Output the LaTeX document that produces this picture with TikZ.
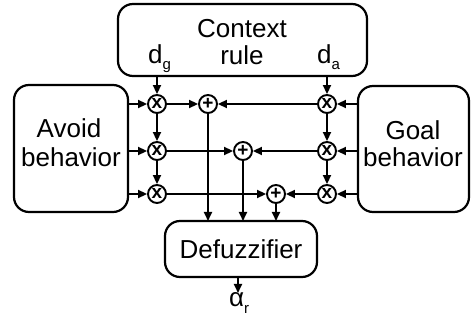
\documentclass[tikz,border=0pt]{standalone}
\usepackage{fontspec}
\setmainfont{Liberation Sans}
\usetikzlibrary{arrows.meta}
\newcommand{\lowsub}[1]{\raisebox{-6pt}{\fontsize{15}{15}\selectfont #1}}
\begin{document}
\begin{tikzpicture}[x=1pt,y=-1pt,
  blk/.style={draw,line width=2.2pt,rounded corners=15pt},
  lbl/.style={inner sep=0pt,font=\fontsize{26}{28}\selectfont},
  op/.style={draw,circle,line width=1.9pt,minimum size=18pt,inner sep=0pt,font=\fontsize{19}{19}\selectfont\bfseries},
  conn/.style={line width=1.9pt,-{Triangle[length=9pt,width=8pt]}},
  wire/.style={line width=1.9pt}]
\useasboundingbox (0,0) rectangle (472,326);

% blocks
\draw[blk] (118,4) rectangle (367,76);
\draw[blk] (14,85) rectangle (128,212);
\draw[blk] (358,86) rectangle (469,212);
\draw[blk] (165,221) rectangle (317,277);
\coordinate (ctxL) at (157,76);
\coordinate (ctxR) at (327,76);

\node[lbl] at (242,29) {Context};
\node[lbl] at (242,55) {rule};
\node[lbl,anchor=base west] (dg) at (148,64) {d\lowsub{g}};
\node[lbl,anchor=base west] (da) at (317,64) {d\lowsub{a}};
\node[lbl] at (69,128) {Avoid};
\node[lbl] at (71,157) {behavior};
\node[lbl] at (413,130) {Goal};
\node[lbl] at (413,157) {behavior};
\node[lbl] at (241,249) {Defuzzifier};
\node[lbl,anchor=base west] (ar) at (229,307) {α\lowsub{r}};

% multipliers and adders
\foreach \r/\y in {1/104,2/151,3/194}{
  \node[op] (ml\r) at (157,\y) {\raisebox{1pt}{x}};
  \node[op] (mr\r) at (327,\y) {\raisebox{1pt}{x}};
  \coordinate (inL\r) at (128,\y);
  \coordinate (inR\r) at (358,\y);
}
\node[op] (s1) at (208,104) {+};
\node[op] (s2) at (243,151) {+};
\node[op] (s3) at (276,194) {+};

% context weights
\draw[conn] (ctxL) -- (ml1);
\draw[conn] (ctxR) -- (mr1);
\draw[conn] (ml1) -- (ml2);
\draw[conn] (ml2) -- (ml3);
\draw[conn] (mr1) -- (mr2);
\draw[conn] (mr2) -- (mr3);

% behaviour inputs
\foreach \r in {1,2,3}{
  \draw[conn] (inL\r) -- (ml\r);
  \draw[conn] (inR\r) -- (mr\r);
}

% products into adders
\draw[conn] (ml1) -- (s1);
\draw[conn] (mr1) -- (s1);
\draw[conn] (ml2) -- (s2);
\draw[conn] (mr2) -- (s2);
\draw[conn] (ml3) -- (s3);
\draw[conn] (mr3) -- (s3);

% sums into defuzzifier
\coordinate (df1) at (208,221);
\coordinate (df2) at (243,221);
\coordinate (df3) at (276,221);
\draw[conn] (s1) -- (df1);
\draw[conn] (s2) -- (df2);
\draw[conn] (s3) -- (df3);

% output
\coordinate (dfo) at (238,277);
\draw[conn] (dfo) -- (238,293);
\end{tikzpicture}
\end{document}
